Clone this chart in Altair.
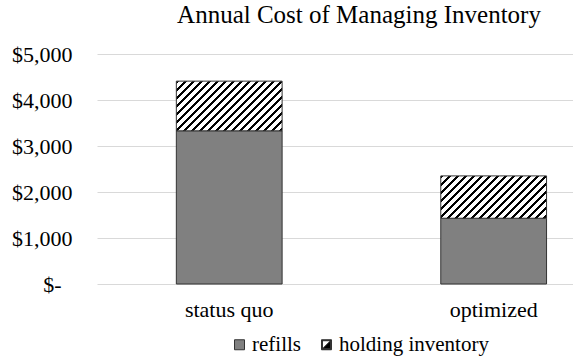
import altair as alt
import pandas as pd

# ---- data ----
categories = ["status quo", "optimized"]
series_names = ["refills", "holding inventory"]
refills = [3330, 1430]
holding = [1080, 920]
y_ticks = [0, 1000, 2000, 3000, 4000, 5000]

rows = []
for i, c in enumerate(categories):
    rows.append({"cat": c, "series": series_names[0], "value": refills[i], "ord": 0})
    rows.append({"cat": c, "series": series_names[1], "value": holding[i], "ord": 1})
df = pd.DataFrame(rows)

# ---- layout / style ----
W, H = 476, 230
YMAX = 5000
P_IN, P_OUT, ALIGN = 0.6, 0.2, 0.75
FONT = "Liberation Serif"
BAR_W = W / (len(categories) - P_IN + 2 * P_OUT) * (1 - P_IN)


def hatch(val, period=8.0, black=3.2):
    """Diagonal '/' hatch as a hard-stop linear gradient (45 deg in pixel space)."""
    w = BAR_W
    h = val * H / YMAX
    span = w + h
    k = span / (w * w + h * h)
    stops = []
    s = 0.0
    while s < span:
        a = min(s + black, span)
        b = min(s + period, span)
        stops += [(s, "#000000"), (a, "#000000"), (a, "#ffffff"), (b, "#ffffff")]
        s += period
    return {
        "gradient": "linear",
        "x1": 0, "y1": 0, "x2": k * w, "y2": k * h,
        "stops": [{"offset": round(o / span, 5), "color": col} for o, col in stops],
    }


conds = [
    {"test": f"datum.series == '{series_names[1]}' && datum.cat == '{c}'",
     "value": hatch(holding[i])}
    for i, c in enumerate(categories)
]

SQUARE = "M-1,-1H1V1H-1Z"
HALF = "M-1,-1H1V1H-1Z M-0.8,-0.8V0.8H0.8V-0.8Z M0.8,-0.8V0.8H-0.8Z"

fill_scale = alt.Scale(domain=series_names, range=["#808080", "#000000"])
legend = alt.Legend(
    title=None, orient="none", direction="horizontal",
    legendX=132, legendY=280, padding=0,
    labelFont=FONT, labelFontSize=21, labelColor="#000000", labelOffset=2,
    symbolSize=100, symbolStrokeColor="#333333", symbolStrokeWidth=1,
    columnPadding=15,
)

ZERO_LABEL = "$-\u00a0\u00a0\u200b"

x_enc = alt.X(
    "cat:N", sort=categories,
    scale=alt.Scale(paddingInner=P_IN, paddingOuter=P_OUT, align=ALIGN),
    axis=alt.Axis(title=None, labelAngle=0, ticks=False, domain=False,
                  labelFont=FONT, labelFontSize=22, labelColor="#000000",
                  labelPadding=15),
)
y_enc = alt.Y(
    "value:Q", stack="zero",
    scale=alt.Scale(domain=[0, YMAX], nice=False),
    axis=alt.Axis(title=None, values=y_ticks, ticks=False, domain=False,
                  grid=True, gridColor="#d9d9d9", gridWidth=1,
                  labelFont=FONT, labelFontSize=22, labelColor="#000000",
                  labelPadding=25,
                  labelExpr=f"datum.value == 0 ? '{ZERO_LABEL}' : '$' + format(datum.value, ',')"),
)

bars = alt.Chart(df).mark_bar(stroke="#333333", strokeWidth=1).encode(
    x=x_enc,
    y=y_enc,
    fill=alt.Fill("series:N", scale=fill_scale, legend=legend, condition=conds),
    order=alt.Order("ord:Q"),
)

legend_layer = alt.Chart(df).transform_filter("false").mark_point(filled=True, opacity=1).encode(
    fill=alt.Fill("series:N", scale=fill_scale, legend=legend),
    shape=alt.Shape("series:N", scale=alt.Scale(domain=series_names, range=[SQUARE, HALF]),
                    legend=legend),
)

chart = alt.layer(bars, legend_layer).properties(
    width=W, height=H,
    title=alt.TitleParams("Annual Cost of Managing Inventory", font=FONT, fontSize=25,
                          fontWeight="normal", color="#000000", anchor="middle",
                          dx=24, offset=15),
    autosize=alt.AutoSizeParams(type="none"),
    padding={"left": 97, "top": 54, "right": 0, "bottom": 76},
).configure(background="white", font=FONT).configure_view(stroke=None).configure_legend(
    labelFont=FONT, labelFontSize=21, labelColor="#000000"
)

chart.save("out.html", embed_options={"renderer": "svg", "actions": False})
